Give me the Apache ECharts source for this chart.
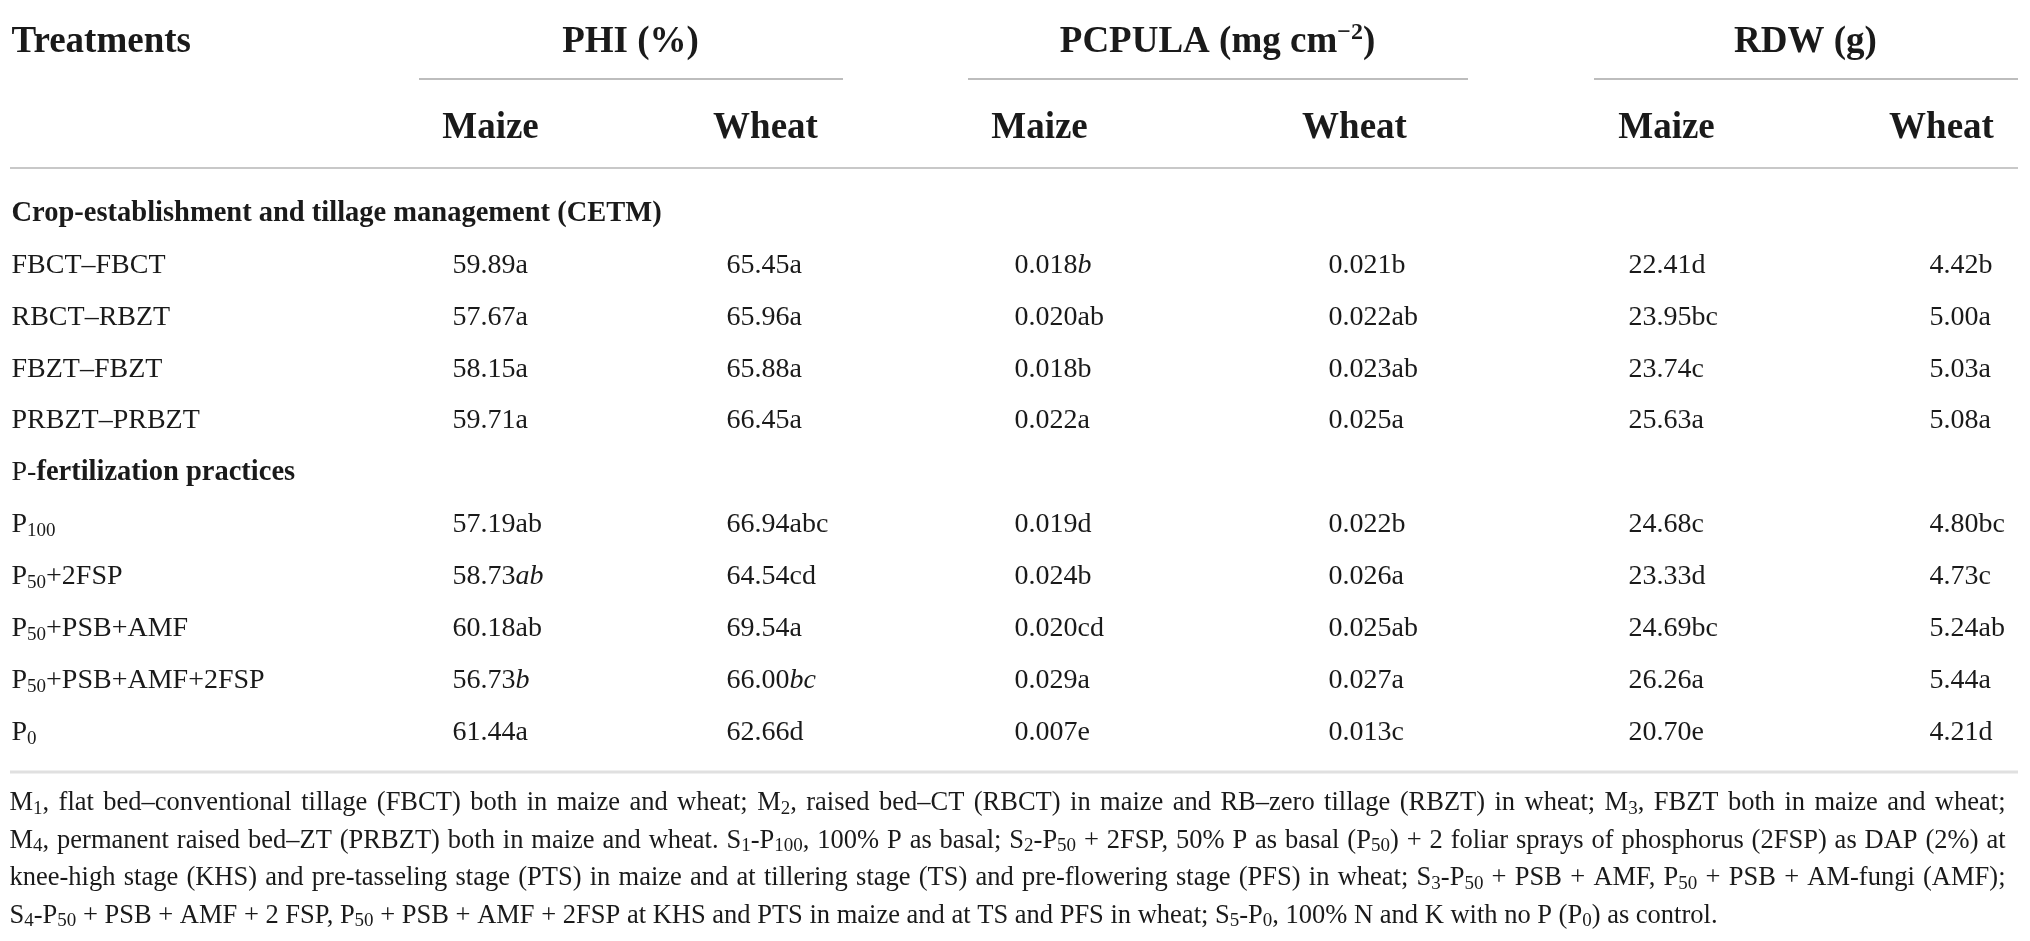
<!DOCTYPE html>
<html>
<head>
<meta charset="utf-8">
<title>PHI, PCPULA and RDW by treatment</title>
<style>
  html, body { margin: 0; padding: 0; background: #fff; }
  #chart { width: 2030px; height: 941px; }
</style>
<script src="https://cdn.jsdelivr.net/npm/echarts@6/dist/echarts.min.js"></script>
</head>
<body>
<div id="chart"></div>
<script>
// ---- table content ----
const groupHeads = ["PHI (%)", "PCPULA (mg cm{sup|\u22122})", "RDW (g)"];
const cropHeads = ["Maize", "Wheat", "Maize", "Wheat", "Maize", "Wheat"];
const sectionTitles = [
  "{bold|Crop-establishment and tillage management (CETM)}",
  "P-{bold|fertilization practices}",
];
const cetmTreatments = ["FBCT\u2013FBCT", "RBCT\u2013RBZT", "FBZT\u2013FBZT", "PRBZT\u2013PRBZT"];
const pTreatments = ["P_100", "P_50+2FSP", "P_50+PSB+AMF", "P_50+PSB+AMF+2FSP", "P_0"];

// values in table order (4 CETM rows, then 5 P rows); "*" marks letters set in italics
const phiMaize = [59.89, 57.67, 58.15, 59.71, 57.19, 58.73, 60.18, 56.73, 61.44];
const phiMaizeSig = ["a", "a", "a", "a", "ab", "*ab", "ab", "*b", "a"];
const phiWheat = [65.45, 65.96, 65.88, 66.45, 66.94, 64.54, 69.54, 66.00, 62.66];
const phiWheatSig = ["a", "a", "a", "a", "abc", "cd", "a", "*bc", "d"];
const pcpulaMaize = [0.018, 0.020, 0.018, 0.022, 0.019, 0.024, 0.020, 0.029, 0.007];
const pcpulaMaizeSig = ["*b", "ab", "b", "a", "d", "b", "cd", "a", "e"];
const pcpulaWheat = [0.021, 0.022, 0.023, 0.025, 0.022, 0.026, 0.025, 0.027, 0.013];
const pcpulaWheatSig = ["b", "ab", "ab", "a", "b", "a", "ab", "a", "c"];
const rdwMaize = [22.41, 23.95, 23.74, 25.63, 24.68, 23.33, 24.69, 26.26, 20.70];
const rdwMaizeSig = ["d", "bc", "c", "a", "c", "d", "bc", "a", "e"];
const rdwWheat = [4.42, 5.00, 5.03, 5.08, 4.80, 4.73, 5.24, 5.44, 4.21];
const rdwWheatSig = ["b", "a", "a", "a", "bc", "c", "ab", "a", "d"];

const footnoteLines = [
  "M_1, flat bed\u2013conventional tillage (FBCT) both in maize and wheat; M_2, raised bed\u2013CT (RBCT) in maize and RB\u2013zero tillage (RBZT) in wheat; M_3, FBZT both in maize and wheat;",
  "M_4, permanent raised bed\u2013ZT (PRBZT) both in maize and wheat. S_1-P_100, 100% P as basal; S_2-P_50 + 2FSP, 50% P as basal (P_50) + 2 foliar sprays of phosphorus (2FSP) as DAP (2%) at",
  "knee-high stage (KHS) and pre-tasseling stage (PTS) in maize and at tillering stage (TS) and pre-flowering stage (PFS) in wheat; S_3-P_50 + PSB + AMF, P_50 + PSB + AM-fungi (AMF);",
  "S_4-P_50 + PSB + AMF + 2 FSP, P_50 + PSB + AMF + 2FSP at KHS and PTS in maize and at TS and PFS in wheat; S_5-P_0, 100% N and K with no P (P_0) as control.",
];

// ---- layout ----
const W = 2030;
const FONT = '"Liberation Serif", "Times New Roman", serif';
const INK = "#1a1a1a";
const X_LABEL = 12;
const X_COL = [453, 727, 1015, 1329, 1629, 1930];
const X_CROP_HEAD = [491, 766, 1040, 1355, 1667, 1942];
const X_GROUP_HEAD = [631, 1218, 1806];
const GROUP_RULES = [[419, 843], [968, 1468], [1594, 2018]];
const BODY_SIZE = 28;
const SECTION_SIZE = 28.5;
const HEAD_SIZE = 37;
const FOOT_SIZE = 26.5;
const FOOT_WIDTH = 1996;

const columns = [
  [phiMaize, phiMaizeSig, 2], [phiWheat, phiWheatSig, 2],
  [pcpulaMaize, pcpulaMaizeSig, 3], [pcpulaWheat, pcpulaWheatSig, 3],
  [rdwMaize, rdwMaizeSig, 2], [rdwWheat, rdwWheatSig, 2],
];

const subs = (s) => s.replace(/_(\d+)/g, "{sub|$1}");

function cellText(v, sig, digits) {
  const italic = sig.startsWith("*");
  const letters = italic ? sig.slice(1) : sig;
  return v.toFixed(digits) + (italic ? `{it|${letters}}` : letters);
}

// rows of the body: section title, then its treatments
const bodyRows = [];
bodyRows.push({ label: sectionTitles[0], vi: null });
cetmTreatments.forEach((t, i) => bodyRows.push({ label: subs(t), vi: i }));
bodyRows.push({ label: sectionTitles[1], vi: null });
pTreatments.forEach((t, i) => bodyRows.push({ label: subs(t), vi: cetmTreatments.length + i }));

const bodyData = [];
bodyRows.forEach((row, r) => {
  bodyData.push({ value: [X_LABEL, r], text: row.label });
  if (row.vi === null) return;
  columns.forEach(([vals, sigs, digits], c) => {
    bodyData.push({ value: [X_COL[c], r], text: cellText(vals[row.vi], sigs[row.vi], digits) });
  });
});

// stretch the spaces of the footnote lines so that all but the last fill the width
const ctx = document.createElement("canvas").getContext("2d");
function measure(str, size) {
  ctx.font = `${size}px "Liberation Serif"`;
  return ctx.measureText(str).width;
}
const FOOT_SUB = Math.round(FOOT_SIZE * 0.7);
const footRich = {};
const footData = footnoteLines.map((line, i) => {
  const parts = line.split(/(_\d+)/);
  let fixed = 0, spaces = 0;
  parts.forEach((p) => {
    if (/^_\d+$/.test(p)) fixed += measure(p.slice(1), FOOT_SUB);
    else {
      spaces += p.split(" ").length - 1;
      fixed += measure(p.replace(/ /g, ""), FOOT_SIZE);
    }
  });
  const last = i === footnoteLines.length - 1;
  const gap = last ? measure(" ", FOOT_SIZE) : (FOOT_WIDTH - fixed) / spaces;
  footRich["sp" + i] = { width: gap, fontSize: FOOT_SIZE };
  const text = parts
    .map((p) => (/^_\d+$/.test(p) ? `{sub|${p.slice(1)}}` : p.replace(/ /g, `{sp${i}| }`)))
    .join("");
  return { value: [10, i], text };
});

const headLeft = [{ value: [X_LABEL, 0], text: "Treatments" }];
const headCenter = [
  ...groupHeads.map((g, i) => ({ value: [X_GROUP_HEAD[i], 0], text: g })),
  ...cropHeads.map((c, i) => ({ value: [X_CROP_HEAD[i], 1], text: c })),
];

function textSeries(gridIndex, data, align, size, weight, rich) {
  return {
    type: "scatter",
    xAxisIndex: gridIndex,
    yAxisIndex: gridIndex,
    data,
    symbolSize: 1,
    itemStyle: { color: "transparent", opacity: 1 },
    silent: true,
    label: {
      show: true,
      position: [0, 0],
      align,
      verticalAlign: "middle",
      formatter: (p) => p.data.text,
      fontFamily: FONT,
      fontSize: size,
      fontWeight: weight,
      color: INK,
      opacity: 1,
      lineHeight: size + 10,
      rich,
    },
  };
}

const bodyRich = {
  bold: { fontFamily: FONT, fontSize: SECTION_SIZE, fontWeight: "bold", color: INK, lineHeight: BODY_SIZE + 10 },
  it: { fontFamily: FONT, fontSize: BODY_SIZE, fontStyle: "italic", color: INK, lineHeight: BODY_SIZE + 10 },
  sub: { fontFamily: FONT, fontSize: 19, color: INK, verticalAlign: "bottom", lineHeight: 19, padding: [0, 0, 3, 0] },
};
const headRich = {
  sup: { fontFamily: FONT, fontSize: 24, fontWeight: "bold", color: INK, verticalAlign: "top", lineHeight: 24, padding: [2, 0, 0, 0] },
};
const footSubRich = {
  sub: { fontFamily: FONT, fontSize: FOOT_SUB, color: INK, verticalAlign: "bottom", lineHeight: FOOT_SUB, padding: [0, 0, 3, 0] },
  ...footRich,
};

const hiddenX = (gridIndex) => ({ type: "value", gridIndex, min: 0, max: W, show: false });
const hiddenY = (gridIndex, n) => ({
  type: "category", gridIndex, inverse: true, show: false,
  data: Array.from({ length: n }, (_, i) => String(i)),
});

const option = {
  animation: false,
  backgroundColor: "#fff",
  grid: [
    { left: 0, right: 0, top: -18, height: 190 },
    { left: 0, right: 0, top: 188, height: 571 },
    { left: 0, right: 0, top: 785, height: 150 },
  ],
  xAxis: [hiddenX(0), hiddenX(1), hiddenX(2)],
  yAxis: [hiddenY(0, 2), hiddenY(1, bodyRows.length), hiddenY(2, footnoteLines.length)],
  series: [
    textSeries(0, headLeft, "left", HEAD_SIZE, "bold", headRich),
    textSeries(0, headCenter, "center", HEAD_SIZE, "bold", headRich),
    textSeries(1, bodyData, "left", BODY_SIZE, "normal", bodyRich),
    textSeries(2, footData, "left", FOOT_SIZE, "normal", footSubRich),
  ],
  graphic: [
    ...GROUP_RULES.map(([a, b]) => ({
      type: "line", silent: true,
      shape: { x1: a, y1: 79, x2: b, y2: 79 },
      style: { stroke: "#bdbdbd", lineWidth: 2 },
    })),
    { type: "line", silent: true, shape: { x1: 10, y1: 168, x2: 2018, y2: 168 }, style: { stroke: "#c8c8c8", lineWidth: 2 } },
    { type: "line", silent: true, shape: { x1: 10, y1: 772, x2: 2018, y2: 772 }, style: { stroke: "#e0e0e0", lineWidth: 3 } },
  ],
};

const chart = echarts.init(document.getElementById("chart"));
chart.setOption(option);
</script>
</body>
</html>
